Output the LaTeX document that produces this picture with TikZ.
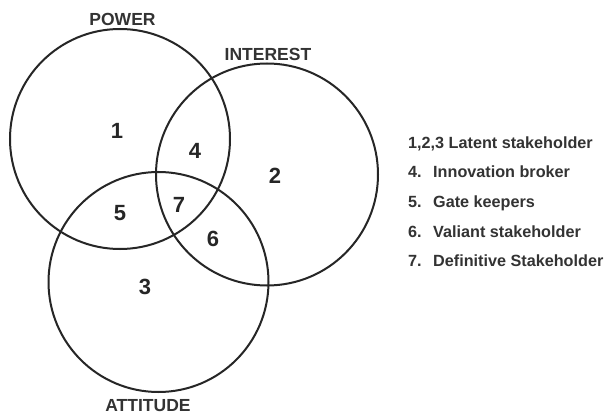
\documentclass[tikz,border=0pt]{standalone}
\usepackage{fontspec}
\setmainfont{Liberation Sans}
\begin{document}
\begin{tikzpicture}[x=1pt,y=-1pt,
  ring/.style={draw=black!85, line width=2pt},
  setlabel/.style={font=\bfseries\fontsize{17.5}{20}\selectfont, text=black!80, inner sep=0pt},
  region/.style={font=\bfseries\fontsize{22}{24}\selectfont, text=black!85, inner sep=0pt},
  legnum/.style={font=\bfseries\fontsize{16.2}{19}\selectfont, text=black!80, inner sep=0pt, anchor=base west},
  legtext/.style={font=\bfseries\fontsize{16.2}{19}\selectfont, text=black!80, inner sep=0pt, anchor=base west}]
\useasboundingbox (0,0) rectangle (605,414);
\fill[white] (0,0) rectangle (605,414);
% circles
\node[ring, circle, minimum size=220pt, inner sep=0pt] (power) at (120,139) {};
\node[ring, circle, minimum size=222pt, inner sep=0pt] (interest) at (267,174.5) {};
\node[ring, circle, minimum size=220pt, inner sep=0pt] (attitude) at (158.5,282) {};
% set labels
\node[setlabel] (lpower) at (122.5,19.5) {POWER};
\node[setlabel] (linterest) at (268,54) {INTEREST};
\node[setlabel] (lattitude) at (148,405.5) {ATTITUDE};
% region numbers
\node[region] (r1) at (117,131) {1};
\node[region] (r2) at (275,176) {2};
\node[region] (r3) at (145,287) {3};
\node[region] (r4) at (195,151) {4};
\node[region] (r5) at (120,213) {5};
\node[region] (r6) at (213,239) {6};
\node[region] (r7) at (179,205) {7};
% legend
\node[legnum] (g1) at (408,149) {1,2,3 Latent stakeholder};
\node[legnum] (g4) at (408,178) {4.};
\node[legtext] (t4) at (433,178) {Innovation broker};
\node[legnum] (g5) at (408,208) {5.};
\node[legtext] (t5) at (433,208) {Gate keepers};
\node[legnum] (g6) at (408,237) {6.};
\node[legtext] (t6) at (433,237) {Valiant stakeholder};
\node[legnum] (g7) at (408,266) {7.};
\node[legtext] (t7) at (433,266) {Definitive Stakeholder};
\end{tikzpicture}
\end{document}
